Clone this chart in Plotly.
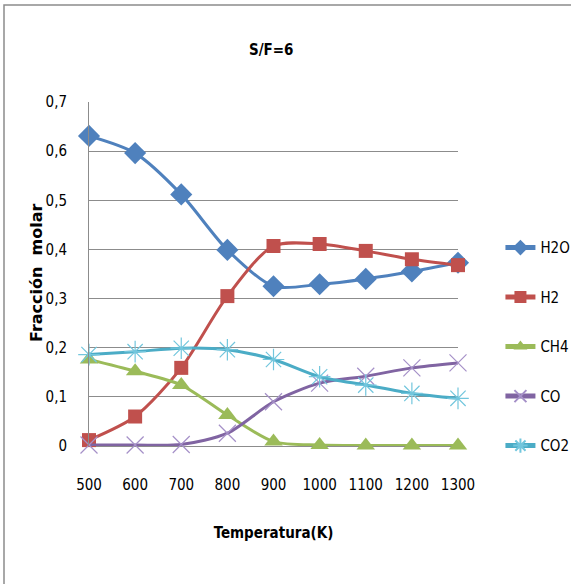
import plotly.graph_objects as go

temps = [500, 600, 700, 800, 900, 1000, 1100, 1200, 1300]
h2o = [0.631, 0.596, 0.512, 0.399, 0.325, 0.329, 0.340, 0.355, 0.373]
h2 = [0.012, 0.060, 0.159, 0.305, 0.407, 0.411, 0.397, 0.380, 0.368]
ch4 = [0.176, 0.152, 0.124, 0.063, 0.009, 0.002, 0.001, 0.001, 0.001]
co = [0.002, 0.002, 0.003, 0.026, 0.090, 0.128, 0.142, 0.159, 0.169]
co2 = [0.186, 0.192, 0.199, 0.196, 0.176, 0.141, 0.124, 0.107, 0.097]

series = [
    ("H2O", h2o, "#4F81BD", "diamond", 17, "#4F81BD"),
    ("H2", h2, "#C0504D", "square", 14, "#C0504D"),
    ("CH4", ch4, "#9BBB59", "triangle-up", 16, "#9BBB59"),
    ("CO", co, "#8064A2", "x-thin-open", 17, "#A590C8"),
    ("CO2", co2, "#4BACC6", "asterisk-open", 18, "#72C6DD"),
]

FONT = "DejaVu Sans Condensed, sans-serif"

fig = go.Figure()
for i, (name, vals, col, sym, sz, mcol) in enumerate(series):
    open_sym = sym.endswith("open")
    fig.add_trace(go.Scatter(
        x=temps, y=vals, name=name, mode="lines+markers",
        line=dict(color=col, width=3, shape="spline", smoothing=0.8),
        marker=dict(symbol=sym, size=sz, color=mcol if open_sym else col,
                    line=dict(width=1.2 if open_sym else 0, color=mcol)),
        cliponaxis=False, legendgroup=f"g{i}",
    ))

fig.update_layout(
    width=571, height=584,
    margin=dict(l=89, r=113, t=102, b=138, autoexpand=False),
    paper_bgcolor="white", plot_bgcolor="white",
    separators=",.",
    font=dict(family=FONT, size=15, color="#000000"),
    title=dict(text="<b>S/F=6</b>", x=0.475, xanchor="center", y=1 - 50 / 584,
               yanchor="middle", font=dict(family=FONT, size=15)),
    showlegend=True,
    legend=dict(x=1.115, xanchor="left", y=0.624, yanchor="top",
                traceorder="grouped", tracegroupgap=27, itemsizing="constant",
                font=dict(family=FONT, size=15), bgcolor="rgba(0,0,0,0)"),
    xaxis=dict(range=[500, 1300], tickvals=temps, ticktext=[str(t) for t in temps],
               showgrid=False, zeroline=False, showline=False,
               ticklabelstandoff=28,
               title=dict(text="<b>Temperatura(K)</b>", standoff=34,
                          font=dict(family=FONT, size=15))),
    yaxis=dict(range=[0, 0.7], dtick=0.1, tick0=0, showgrid=True,
               gridcolor="#8C8C8C", gridwidth=1, zeroline=True,
               zerolinecolor="#8C8C8C", zerolinewidth=1,
               showline=True, linecolor="#8C8C8C", linewidth=1,
               ticklabelstandoff=18),
)

fig.add_annotation(text="<b>Fracción  molar</b>", xref="paper", yref="paper",
                   x=(36 - 89) / 369, y=(446 - 273) / 344, textangle=-90,
                   showarrow=False, xanchor="center", yanchor="middle",
                   font=dict(family="DejaVu Sans", size=16, color="#000000"))

fig.add_shape(type="rect", xref="paper", yref="paper",
              x0=-85 / 369, x1=1.45, y0=-0.5, y1=1 + 97 / 344,
              line=dict(color="#8C8C8C", width=1.5), layer="below")

fig.write_html("out.html")
